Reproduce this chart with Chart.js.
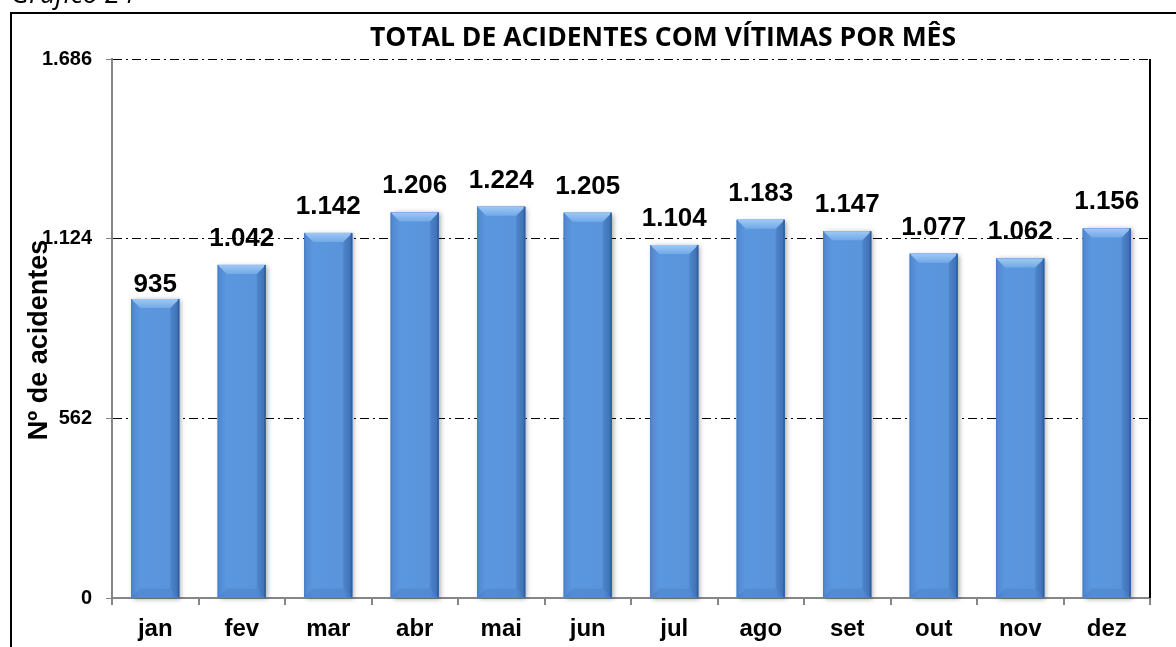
<!DOCTYPE html>
<html lang="pt-BR">
<head>
<meta charset="utf-8">
<title>Total de acidentes com vítimas por mês</title>
<script src="https://cdn.jsdelivr.net/npm/chart.js@4.4.1/dist/chart.umd.min.js"></script>
<style>
    html, body { margin: 0; padding: 0; background: #fff; }
    canvas { display: block; }
</style>
</head>
<body>
<canvas id="acidentes" width="1176" height="647"></canvas>
<script>
// Dados do gráfico
const meses = ['jan', 'fev', 'mar', 'abr', 'mai', 'jun', 'jul', 'ago', 'set', 'out', 'nov', 'dez'];
const acidentes = [935, 1042, 1142, 1206, 1224, 1205, 1104, 1183, 1147, 1077, 1062, 1156];
const marcasEixoY = [0, 562, 1124, 1686];

const titulo = 'TOTAL DE ACIDENTES COM VÍTIMAS POR MÊS';
const tituloEixoY = 'Nº de acidentes';
const legendaGrafico = 'Gráfico 24';

const fonteArial = '"Liberation Sans", Arial, sans-serif';

// Formata números com ponto como separador de milhar (ex: 1.124)
function formatar(v) {
    return String(v).replace(/\B(?=(\d{3})+(?!\d))/g, '.');
}

// Sombra leve atrás de cada barra
const sombraBarras = {
    id: 'sombraBarras',
    beforeDatasetsDraw(chart) {
        const ctx = chart.ctx;
        chart.getDatasetMeta(0).data.forEach(bar => {
            const w = bar.width;
            ctx.save();
            ctx.shadowColor = 'rgba(0,0,0,0.35)';
            ctx.shadowBlur = 5;
            ctx.shadowOffsetX = 2;
            ctx.shadowOffsetY = 1;
            ctx.fillStyle = '#5b96dd';
            ctx.fillRect(bar.x - w / 2, bar.y, w, bar.base - bar.y);
            ctx.restore();
        });
    }
};

// Efeito de chanfro (bevel) nas barras + rótulos de valor
const chanfroERotulos = {
    id: 'chanfroERotulos',
    afterDatasetsDraw(chart) {
        const ctx = chart.ctx;
        const b = 9; // profundidade do chanfro
        chart.getDatasetMeta(0).data.forEach((bar, i) => {
            const l = bar.x - bar.width / 2;
            const r = bar.x + bar.width / 2;
            const t = bar.y;
            const bt = bar.base;
            ctx.save();

            // corpo com gradiente horizontal
            const g = ctx.createLinearGradient(l, 0, r, 0);
            g.addColorStop(0, '#4f87d0');
            g.addColorStop(0.18, '#5b97de');
            g.addColorStop(0.82, '#5a95dc');
            g.addColorStop(1, '#4478bd');
            ctx.fillStyle = g;
            ctx.fillRect(l, t, r - l, bt - t);

            // chanfro de baixo (mais escuro)
            ctx.fillStyle = 'rgba(40,80,140,0.14)';
            ctx.beginPath();
            ctx.moveTo(l, bt); ctx.lineTo(l + b, bt - b); ctx.lineTo(r - b, bt - b); ctx.lineTo(r, bt);
            ctx.closePath(); ctx.fill();

            // chanfro direito
            ctx.fillStyle = 'rgba(30,60,120,0.18)';
            ctx.beginPath();
            ctx.moveTo(r, t); ctx.lineTo(r - b, t + b); ctx.lineTo(r - b, bt - b); ctx.lineTo(r, bt);
            ctx.closePath(); ctx.fill();

            // chanfro de cima (claro)
            const gt = ctx.createLinearGradient(0, t, 0, t + b);
            gt.addColorStop(0, '#9dc8f5');
            gt.addColorStop(1, '#72a9e8');
            ctx.fillStyle = gt;
            ctx.beginPath();
            ctx.moveTo(l, t); ctx.lineTo(r, t); ctx.lineTo(r - b, t + b); ctx.lineTo(l + b, t + b);
            ctx.closePath(); ctx.fill();

            // contornos laterais
            ctx.strokeStyle = '#2f5f9f';
            ctx.lineWidth = 1.5;
            ctx.beginPath();
            ctx.moveTo(r - 0.75, t); ctx.lineTo(r - 0.75, bt);
            ctx.stroke();
            ctx.strokeStyle = '#4a7ec4';
            ctx.lineWidth = 1;
            ctx.beginPath();
            ctx.moveTo(l + 0.5, t); ctx.lineTo(l + 0.5, bt);
            ctx.stroke();

            // rótulo do valor (o de janeiro fica mais perto da barra)
            const afastamento = i === 0 ? 7 : 19;
            ctx.fillStyle = '#000';
            ctx.font = 'bold 26px ' + fonteArial;
            ctx.textAlign = 'center';
            ctx.textBaseline = 'alphabetic';
            ctx.fillText(formatar(acidentes[i]), bar.x, t - afastamento);
            ctx.restore();
        });
    }
};

// Moldura, título, título do eixo Y e borda direita da área do gráfico
const moldura = {
    id: 'moldura',
    afterDraw(chart) {
        const ctx = chart.ctx;
        const area = chart.chartArea;
        ctx.save();

        // moldura externa
        ctx.strokeStyle = '#000';
        ctx.lineWidth = 2;
        ctx.beginPath();
        ctx.moveTo(11, chart.height + 2);
        ctx.lineTo(11, 13);
        ctx.lineTo(chart.width + 2, 13);
        ctx.stroke();

        // borda direita da área de plotagem
        ctx.beginPath();
        ctx.moveTo(area.right, area.top);
        ctx.lineTo(area.right, area.bottom);
        ctx.stroke();

        // texto "Gráfico" cortado no topo
        ctx.fillStyle = '#000';
        ctx.font = 'italic 27px "Open Sans", sans-serif';
        ctx.textAlign = 'left';
        ctx.textBaseline = 'alphabetic';
        ctx.fillText(legendaGrafico, 11, 3);

        // título
        ctx.font = 'bold 26.5px "Open Sans", sans-serif';
        ctx.textAlign = 'center';
        ctx.fillText(titulo, 663, 46);

        // título do eixo Y
        ctx.translate(40, 340);
        ctx.rotate(-Math.PI / 2);
        ctx.font = 'bold 27px ' + fonteArial;
        ctx.textBaseline = 'middle';
        ctx.fillText(tituloEixoY, 0, 0);
        ctx.restore();
    }
};

const config = {
    type: 'bar',
    data: {
        labels: meses,
        datasets: [{
            label: 'Acidentes',
            data: acidentes,
            backgroundColor: '#5b96dd',
            borderWidth: 0,
            barPercentage: 0.555,
            categoryPercentage: 1
        }]
    },
    options: {
        responsive: false,
        animation: false,
        layout: { padding: { top: 59, right: 26, left: 0, bottom: 0 } },
        plugins: {
            legend: { display: false },
            tooltip: { enabled: false },
            title: { display: false }
        },
        scales: {
            x: {
                afterFit(scale) { scale.height = 49; },
                grid: {
                    drawOnChartArea: false,
                    drawTicks: true,
                    tickLength: 7,
                    color: '#868686',
                    lineWidth: 2
                },
                border: { color: '#868686', width: 2 },
                ticks: {
                    color: '#000',
                    padding: 10,
                    font: { family: fonteArial, size: 24, weight: 'bold' }
                }
            },
            y: {
                min: 0,
                max: 1686,
                afterFit(scale) { scale.width = 112; },
                afterBuildTicks(scale) {
                    scale.ticks = marcasEixoY.map(v => ({ value: v }));
                },
                grid: {
                    color: ctx => ctx.tick && ctx.tick.value === 0 ? 'rgba(0,0,0,0)' : '#000',
                    lineWidth: 1,
                    drawTicks: true,
                    tickLength: 6,
                    tickColor: '#868686'
                },
                border: { color: '#868686', width: 2, dash: [9, 4, 2, 4] },
                ticks: {
                    color: '#000',
                    padding: 14,
                    font: { family: fonteArial, size: 20, weight: 'bold' },
                    callback: v => formatar(v)
                }
            }
        }
    },
    plugins: [sombraBarras, chanfroERotulos, moldura]
};

const grafico = new Chart(document.getElementById('acidentes'), config);
</script>
</body>
</html>
